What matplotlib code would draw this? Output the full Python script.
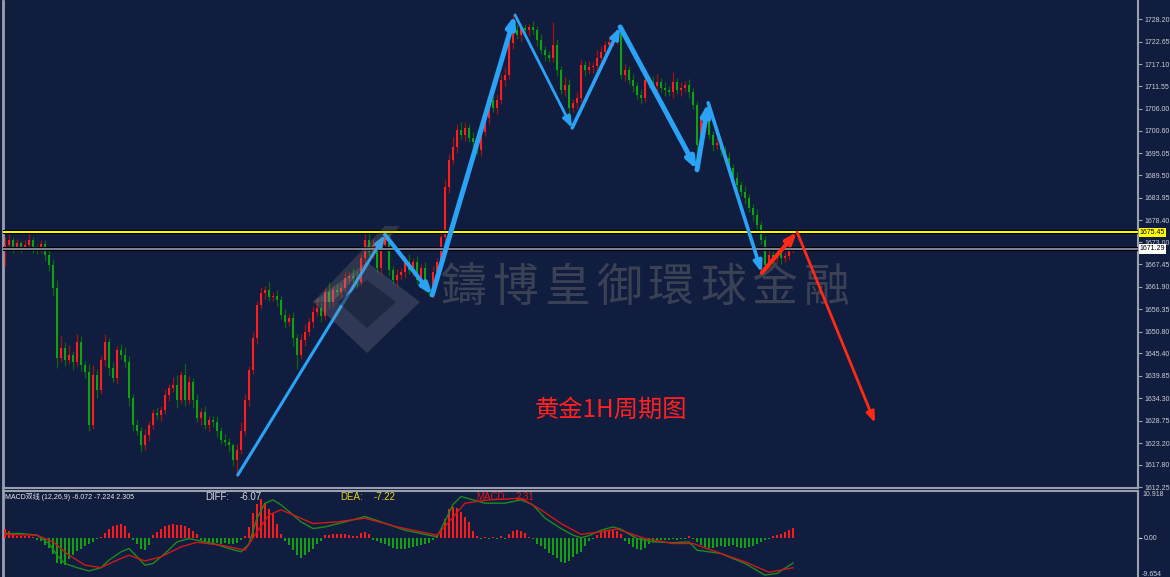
import numpy as np
import matplotlib.pyplot as plt
from matplotlib.patches import Polygon
from matplotlib.transforms import blended_transform_factory

# ---- hourly gold candles (close, wick above body, wick below body) ----
first_open = 1671.0
closes = [
    1672.3, 1673.5, 1671.8, 1672.8, 1671.5, 1672.3, 1673.5, 1671.8, 1671.0, 1672.5,
    1669.8, 1667.3, 1661.6, 1644.3, 1646.7, 1643.8, 1645.0, 1643.3, 1648.2, 1642.5,
    1640.8, 1627.6, 1640.0, 1636.3, 1643.8, 1648.2, 1641.8, 1639.3, 1646.2, 1645.0,
    1643.3, 1634.3, 1627.6, 1626.3, 1622.6, 1625.1, 1627.6, 1630.6, 1630.1, 1631.3,
    1635.1, 1636.8, 1637.6, 1633.8, 1640.0, 1633.8, 1638.3, 1633.8, 1629.3, 1630.8,
    1627.6, 1628.8, 1628.3, 1626.3, 1623.9, 1623.4, 1622.6, 1618.9, 1621.4, 1626.3,
    1633.8, 1641.3, 1649.2, 1657.4, 1660.4, 1661.1, 1659.4, 1659.6, 1658.6, 1654.9,
    1653.2, 1654.2, 1649.2, 1645.0, 1648.7, 1650.7, 1653.2, 1655.7, 1656.7, 1654.7,
    1660.6, 1658.1, 1661.1, 1660.6, 1661.6, 1664.1, 1664.6, 1664.1, 1663.1, 1669.1,
    1673.5, 1670.5, 1672.3, 1666.6, 1672.3, 1674.0, 1666.1, 1663.6, 1664.8, 1665.6,
    1668.1, 1666.1, 1668.1, 1663.6, 1666.6, 1661.6, 1660.6, 1665.6, 1668.1, 1674.3,
    1686.6, 1693.3, 1696.6, 1700.8, 1699.5, 1701.2, 1698.8, 1697.8, 1695.8, 1700.3,
    1703.8, 1708.2, 1706.2, 1708.2, 1713.2, 1714.4, 1722.3, 1725.6, 1724.3, 1726.0,
    1725.6, 1726.3, 1725.6, 1723.1, 1720.6, 1719.4, 1718.6, 1721.8, 1715.6, 1710.7,
    1711.9, 1706.2, 1707.5, 1708.7, 1716.9, 1715.6, 1716.4, 1716.6, 1718.6, 1720.1,
    1721.8, 1722.6, 1723.6, 1724.8, 1714.4, 1715.6, 1713.2, 1711.7, 1709.5, 1708.7,
    1713.2, 1712.7, 1711.7, 1712.7, 1711.2, 1710.7, 1710.2, 1712.7, 1710.7, 1711.2,
    1711.9, 1710.2, 1707.0, 1697.1, 1703.2, 1705.7, 1699.5, 1697.1, 1697.6, 1695.8,
    1693.9, 1691.3, 1688.9, 1687.1, 1685.4, 1683.9, 1681.5, 1679.7, 1677.2, 1673.5,
    1667.3, 1669.8, 1669.1, 1670.3, 1669.1, 1669.6, 1671.0, 1671.29,
]
wick_hi = [
    2.0, 1.5, 0.8, 1.0, 0.5, 1.2, 1.5, 0.8, 0.6, 1.0,
    1.0, 1.2, 1.5, 2.0, 3.0, 1.5, 2.5, 1.0, 2.0, 1.5,
    1.0, 2.0, 2.5, 1.5, 1.0, 2.0, 1.0, 1.5, 1.0, 1.5,
    2.0, 1.5, 1.0, 1.5, 1.0, 1.5, 1.0, 1.0, 1.5, 1.0,
    1.5, 1.0, 2.0, 2.5, 1.0, 3.0, 1.5, 1.0, 1.5, 1.0,
    1.5, 1.0, 1.0, 1.5, 1.0, 1.5, 1.0, 0.5, 1.5, 2.0,
    1.5, 1.0, 1.5, 1.0, 1.5, 1.0, 2.0, 1.0, 1.5, 1.0,
    1.5, 1.0, 1.5, 1.0, 1.5, 2.0, 1.0, 1.5, 2.5, 1.5,
    1.0, 2.5, 1.0, 1.5, 1.0, 1.5, 1.0, 2.0, 1.5, 1.0,
    1.5, 2.0, 1.5, 1.0, 1.5, 0.8, 2.0, 1.0, 1.5, 1.0,
    1.5, 2.0, 1.0, 1.5, 1.0, 1.5, 1.0, 1.5, 1.0, 1.5,
    2.0, 1.5, 2.5, 1.5, 2.0, 1.5, 1.0, 1.5, 1.0, 1.5,
    1.0, 1.5, 1.0, 1.5, 1.5, 2.0, 1.5, 3.7, 1.5, 1.0,
    1.0, 0.8, 1.5, 1.0, 1.5, 1.0, 1.0, 5.7, 1.5, 1.0,
    2.0, 1.5, 1.0, 1.5, 1.5, 1.0, 1.5, 1.0, 2.0, 1.5,
    1.0, 1.5, 1.5, 1.0, 1.0, 1.5, 1.0, 1.5, 1.0, 1.5,
    1.5, 1.0, 1.5, 2.0, 1.0, 1.5, 1.0, 2.5, 1.0, 1.5,
    1.0, 1.5, 1.0, 1.0, 1.5, 1.0, 1.5, 1.0, 1.5, 1.0,
    1.0, 1.5, 1.0, 1.5, 1.0, 1.5, 1.0, 1.0, 1.5, 1.0,
    1.0, 1.5, 1.0, 1.5, 1.0, 1.0, 1.5, 0.8,
]
wick_lo = [
    4.0, 1.0, 1.5, 1.0, 1.2, 0.8, 1.0, 1.5, 1.0, 0.8,
    1.5, 1.5, 2.0, 2.5, 1.0, 1.5, 1.0, 2.0, 1.0, 1.5,
    1.5, 1.5, 1.0, 2.0, 1.0, 1.5, 2.0, 1.0, 1.5, 1.0,
    1.5, 2.0, 1.5, 1.0, 1.5, 1.0, 1.5, 1.0, 1.0, 1.5,
    1.0, 1.5, 1.0, 2.0, 1.0, 1.5, 1.0, 2.0, 1.0, 1.5,
    1.0, 1.5, 1.0, 1.5, 1.0, 1.0, 1.5, 1.5, 4.2, 1.0,
    1.0, 1.5, 1.0, 1.5, 1.0, 1.5, 1.0, 1.0, 1.5, 1.0,
    1.5, 1.0, 2.0, 3.5, 1.0, 1.5, 1.0, 1.5, 1.0, 1.5,
    1.0, 1.5, 1.0, 1.0, 1.5, 1.0, 1.5, 1.0, 1.5, 1.0,
    1.5, 1.0, 1.5, 1.0, 1.5, 1.0, 1.5, 1.0, 1.5, 1.0,
    1.5, 1.0, 1.5, 1.0, 1.5, 1.0, 1.0, 1.5, 1.0, 1.5,
    1.0, 1.5, 1.0, 1.5, 1.0, 1.5, 1.0, 1.5, 1.0, 1.5,
    1.0, 1.5, 1.0, 1.5, 1.0, 1.5, 1.0, 1.5, 1.0, 1.5,
    1.0, 1.5, 1.0, 1.5, 1.0, 1.5, 1.0, 1.0, 1.5, 1.0,
    1.5, 4.5, 1.0, 1.5, 1.0, 1.5, 1.0, 1.5, 1.0, 1.5,
    1.0, 1.5, 1.0, 1.5, 1.0, 1.5, 1.0, 1.5, 1.0, 1.5,
    1.0, 1.5, 1.0, 1.5, 1.0, 1.5, 1.0, 1.5, 1.0, 1.5,
    1.0, 1.5, 1.0, 3.5, 1.0, 1.5, 1.0, 1.5, 1.0, 1.5,
    1.0, 1.5, 1.0, 1.5, 1.0, 1.5, 1.0, 1.5, 1.0, 1.0,
    1.8, 1.0, 1.5, 1.0, 1.5, 1.0, 1.0, 0.8,
]

# ---- MACD panel ----
macd_hist = [
    2.2, 1.5, 0.8, 0.5, 0.5, 0.4, 0.4, 0.2, -0.5, -0.9,
    -1.8, -2.5, -4.0, -6.0, -6.4, -6.6, -5.2, -4.2, -3.2, -2.8,
    -2.0, -1.6, -1.0, -0.4, 0.2, 1.2, 2.2, 2.7, 3.0, 3.2,
    2.8, 1.2, -0.5, -1.5, -2.8, -3.0, -1.8, 0.6, 1.4, 2.2,
    2.8, 3.1, 3.2, 3.1, 3.0, 2.8, 2.4, 1.6, 0.8, -0.6,
    -1.0, -1.2, -1.4, -1.2, -1.5, -1.3, -1.5, -1.4, -1.2, -0.6,
    0.4, 2.5, 6.0, 8.2, 9.3, 8.4, 7.0, 6.0, 3.2, 1.0,
    -0.8, -1.8, -3.0, -4.2, -4.8, -4.2, -3.4, -2.6, -1.6, -0.8,
    0.6, 0.7, 0.8, 1.0, 0.9, 0.8, 0.6, 0.3, 0.4, 1.2,
    1.3, 1.0, -0.5, -0.9, -1.2, -1.4, -2.0, -2.4, -2.8, -2.6,
    -2.8, -2.4, -2.2, -2.0, -1.8, -1.6, -1.2, -0.5, 0.6, 1.8,
    4.6, 7.0, 7.5, 7.2, 6.3, 5.0, 3.8, 1.5, 0.3, -0.3,
    0.2, -0.2, 0.2, -0.3, 0.3, -0.2, 0.8, 1.5, 1.8, 1.7,
    1.2, 0.1, -0.2, -1.4, -2.0, -2.8, -3.6, -4.2, -5.0, -5.8,
    -6.2, -5.6, -4.6, -4.0, -3.4, -2.0, -0.8, -0.3, 0.6, 1.5,
    1.8, 1.9, 1.8, 1.7, 1.0, -0.8, -1.6, -2.2, -2.8, -3.0,
    -2.4, -1.6, -1.0, -0.8, -0.6, -0.5, -0.6, -0.4, -0.5, -0.3,
    -0.2, 0.3, -0.2, -1.0, -1.8, -2.2, -2.5, -2.4, -2.2, -2.0,
    -2.3, -2.0, -1.8, -2.2, -2.5, -2.4, -2.2, -2.0, -1.4, -1.0,
    -0.6, -0.2, 0.4, 0.6, 0.8, 1.3, 1.9, 2.3,
]
diff_idx = [0, 4, 8, 11, 13, 15, 18, 21, 24, 26, 29, 31, 33, 35, 37, 40, 43, 46, 48,
            52, 56, 59, 61, 63, 65, 67, 69, 71, 74, 77, 80, 85, 90, 94, 100, 104,
            108, 110, 112, 114, 117, 120, 125, 129, 132, 135, 139, 142, 144, 146,
            149, 152, 154, 158, 162, 167, 171, 173, 179, 185, 190, 193, 197]
diff_vals = [1.0, 1.0, 0.6, -1.4, -4.2, -6.2, -7.2, -8.0, -7.2, -5.4, -3.4, -2.6, -4.6,
             -6.6, -6.2, -3.8, -1.0, -0.2, -0.6, -1.4, -2.6, -3.4, -1.5, 4.7, 8.3, 9.1,
             7.9, 6.3, 3.8, 2.2, 2.6, 3.8, 5.1, 3.8, 1.8, 1.0, 0.2, 4.0, 8.0, 9.9, 9.1,
             8.3, 8.3, 9.1, 7.9, 4.7, 2.2, 0.6, 0.0, 0.5, 1.8, 2.6, 2.0, -0.2, -1.0,
             -1.2, -1.0, -3.0, -3.8, -6.2, -9.0, -8.6, -6.07]
dea_idx = [0, 8, 12, 16, 20, 24, 28, 31, 35, 39, 44, 48, 54, 60, 63, 66, 69, 72, 77,
           83, 90, 98, 104, 108, 111, 115, 121, 129, 134, 139, 144, 149, 153, 160,
           167, 172, 179, 185, 191, 197]
dea_vals = [0.8, 0.6, -1.0, -4.2, -6.6, -7.2, -5.4, -4.2, -5.6, -4.6, -2.2, -1.1, -1.8,
            -3.0, 1.4, 5.5, 6.7, 5.5, 3.4, 3.8, 4.7, 2.6, 1.4, 0.6, 3.8, 8.3, 9.1, 9.5,
            6.7, 3.4, 0.8, 1.4, 2.1, -0.2, -1.4, -1.4, -3.8, -5.8, -8.3, -7.22]

# ---- annotations ----
price_ticks = [1728.20, 1722.65, 1717.10, 1711.55, 1706.00, 1700.60, 1695.05, 1689.50,
               1683.95, 1678.40, 1673.00, 1667.45, 1661.90, 1656.35, 1650.80, 1645.40,
               1639.85, 1634.30, 1628.75, 1623.20, 1617.80, 1612.25]
resist_level = 1675.45
bid_level = 1671.29
blue_idx = [58.2, 95.0, 106.8, 127.5, 141.8, 153.8, 173.0, 175.8, 189.2]
blue_price = [1615.3, 1674.8, 1659.9, 1729.3, 1701.3, 1726.3, 1690.9, 1707.5, 1665.4]
red_idx = [189.2, 198.0, 217.5]
red_price = [1665.4, 1675.5, 1628.2]
watermark = '鑄博皇御環球金融'

BG = '#101d3e'
W, H = 1170, 577
fig = plt.figure(figsize=(W / 100, H / 100), dpi=100, facecolor=BG)


def fx(px):
    return px / W


def fy(py):
    return 1 - py / H


ax = fig.add_axes([fx(3), fy(488), fx(1138) - fx(3), fy(1) - fy(488)], facecolor='none')
ax2 = fig.add_axes([fx(3), fy(577), fx(1138) - fx(3), fy(491) - fy(577)], facecolor='none')

# watermark name, behind the candles
for k, ch in enumerate(watermark):
    fig.text(fx(440 + 52 * k), fy(288), ch, fontsize=33, color='#3b4154',
             family=['Noto Sans CJK TC'], va='center', ha='left', zorder=-1)

n = len(closes)
idx = np.arange(n)
opens = np.array([first_open] + closes[:-1])
cl = np.array(closes)
highs = np.maximum(opens, cl) + np.array(wick_hi)
lows = np.minimum(opens, cl) - np.array(wick_lo)
up = cl >= opens

body_up, wick_up = '#ff1e1e', '#a81010'
body_dn, wick_dn = '#10a010', '#0a6a0a'

ax.vlines(idx[up], lows[up], highs[up], color=wick_up, lw=0.9, zorder=3)
ax.vlines(idx[~up], lows[~up], highs[~up], color=wick_dn, lw=0.9, zorder=3)
h = np.abs(cl - opens)
h = np.where(h < 0.25, 0.25, h)
ax.bar(idx[up], h[up], bottom=np.minimum(opens, cl)[up], width=0.5, color=body_up, zorder=4)
ax.bar(idx[~up], h[~up], bottom=np.minimum(opens, cl)[~up], width=0.5, color=body_dn, zorder=4)

ax.axhline(resist_level, color='#000000', lw=3.0, zorder=5)
ax.axhline(resist_level, color='#ffff00', lw=1.4, zorder=6)
ax.axhline(bid_level, color='#000000', lw=3.0, zorder=5)
ax.axhline(bid_level, color='#7c859a', lw=1.4, zorder=6)

ax.set_xlim(-0.5, 283.25)
ax.set_ylim(1612.07, 1732.73)

# zigzag arrows
blue = '#2aa2f5'
blue_lw = [2.2, 3.0, 3.6, 2.0, 2.6, 3.6, 3.6, 2.6]
for k in range(len(blue_idx) - 1):
    ax.annotate('', xy=(blue_idx[k + 1], blue_price[k + 1]), xytext=(blue_idx[k], blue_price[k]),
                arrowprops=dict(arrowstyle='-|>,head_length=0.8,head_width=0.3', color=blue,
                                lw=blue_lw[k], shrinkA=0, shrinkB=0, mutation_scale=8), zorder=8)
red_lw = [3.0, 2.0]
for k in range(len(red_idx) - 1):
    ax.annotate('', xy=(red_idx[k + 1], red_price[k + 1]), xytext=(red_idx[k], red_price[k]),
                arrowprops=dict(arrowstyle='-|>,head_length=0.8,head_width=0.3', color='#ff2a14',
                                lw=red_lw[k], shrinkA=0, shrinkB=0, mutation_scale=8), zorder=8)

# watermark logo, semi-transparent over the chart
logo_band = [(313, 302), (385, 226), (400, 226), (333, 302)]
logo_outer = [(313, 302), (367, 262), (420, 302), (367, 353)]
logo_inner = [(338, 302), (367, 280), (396, 302), (367, 328)]
fig.patches.append(Polygon([(fx(a), fy(b)) for a, b in logo_band], closed=True,
                           transform=fig.transFigure, fc='#9a8f80', alpha=0.22, ec='none', zorder=7))
fig.patches.append(Polygon([(fx(a), fy(b)) for a, b in logo_outer], closed=True,
                           transform=fig.transFigure, fc='#8c8c98', alpha=0.25, ec='none', zorder=7))
fig.patches.append(Polygon([(fx(a), fy(b)) for a, b in logo_inner], closed=True,
                           transform=fig.transFigure, fc='#0c1630', alpha=0.45, ec='none', zorder=7))

# price axis
ax.yaxis.tick_right()
ax.set_yticks(price_ticks)
ax.set_yticklabels(['%.2f' % v for v in price_ticks])
ax.tick_params(axis='y', colors='#c9cdd6', labelsize=5, length=3, width=0.8, pad=1.5,
               labelfontfamily='Liberation Sans')
ax.tick_params(axis='y', color='#9aa0ad')
ax.set_xticks([])
ax.spines['top'].set_visible(False)
ax.spines['left'].set_color('#9aa0ad')
ax.spines['left'].set_linewidth(2)
ax.spines['right'].set_color('#9aa0ad')
ax.spines['right'].set_linewidth(1.5)
ax.spines['bottom'].set_color('#9aa0ad')
ax.spines['bottom'].set_linewidth(1.5)

tr = blended_transform_factory(ax.transAxes, ax.transData)
ax.text(1.0015, resist_level, '%.2f' % resist_level, transform=tr, fontsize=5,
        family='Liberation Sans', color='#000000', va='center', ha='left', zorder=10,
        bbox=dict(boxstyle='square,pad=0.15', fc='#ffff00', ec='none'), clip_on=False)
ax.text(1.0015, bid_level, '%.2f' % bid_level, transform=tr, fontsize=5,
        family='Liberation Sans', color='#000000', va='center', ha='left', zorder=10,
        bbox=dict(boxstyle='square,pad=0.15', fc='#ffffff', ec='none'), clip_on=False)

fig.text(fx(535), fy(410), '黄金1H周期图', fontsize=17.5, color='#ff2020',
         family=['Noto Sans CJK SC'], va='center', ha='left', zorder=9)

# MACD panel
ax2.bar(np.arange(len(macd_hist)), macd_hist, width=0.7,
        color=['#ff1a1a' if v >= 0 else '#12a012' for v in macd_hist], zorder=3)
ax2.plot(diff_idx, diff_vals, color='#1e8a1e', lw=1.0, zorder=4)
ax2.plot(dea_idx, dea_vals, color='#d01818', lw=1.0, zorder=5)
ax2.set_xlim(-0.5, 283.25)
ax2.set_ylim(-9.45, 11.23)
ax2.set_xticks([])
ax2.yaxis.tick_right()
ax2.set_yticks([0])
ax2.set_yticklabels(['0.00'])
ax2.tick_params(axis='y', colors='#c9cdd6', labelsize=5, length=3, width=0.8, pad=1.5,
                labelfontfamily='Liberation Sans')
ax2.spines['bottom'].set_visible(False)
for s in ['left', 'right', 'top']:
    ax2.spines[s].set_color('#9aa0ad')
    ax2.spines[s].set_linewidth(1.5)
ax2.spines['left'].set_linewidth(2)

fig.text(fx(1142), fy(495), '10.918', fontsize=5, family='Liberation Sans', color='#c9cdd6',
         va='center', ha='left')
fig.text(fx(1142), fy(575), '-9.654', fontsize=5, family='Liberation Sans', color='#c9cdd6',
         va='center', ha='left')

fam = ['Liberation Sans', 'Noto Sans CJK SC']
fig.text(fx(5), fy(497), 'MACD双线 (12,26,9) -6.072 -7.224 2.305', fontsize=5, family=fam,
         color='#e8e8e8', va='center', ha='left')
fig.text(fx(205), fy(497), 'DIFF:', fontsize=7, family='Liberation Sans', color='#d8d8d8',
         va='center', ha='left')
fig.text(fx(240), fy(497), '-6.07', fontsize=7, family='Liberation Sans', color='#d8d8d8',
         va='center', ha='left')
fig.text(fx(340), fy(497), 'DEA:', fontsize=7, family='Liberation Sans', color='#e6d21a',
         va='center', ha='left')
fig.text(fx(374), fy(497), '-7.22', fontsize=7, family='Liberation Sans', color='#e6d21a',
         va='center', ha='left')
fig.text(fx(476), fy(497), 'MACD:', fontsize=7, family='Liberation Sans', color='#e01818',
         va='center', ha='left')
fig.text(fx(516), fy(497), '2.31', fontsize=7, family='Liberation Sans', color='#e01818',
         va='center', ha='left')

fig.savefig('out.png', dpi=100, facecolor=BG)
